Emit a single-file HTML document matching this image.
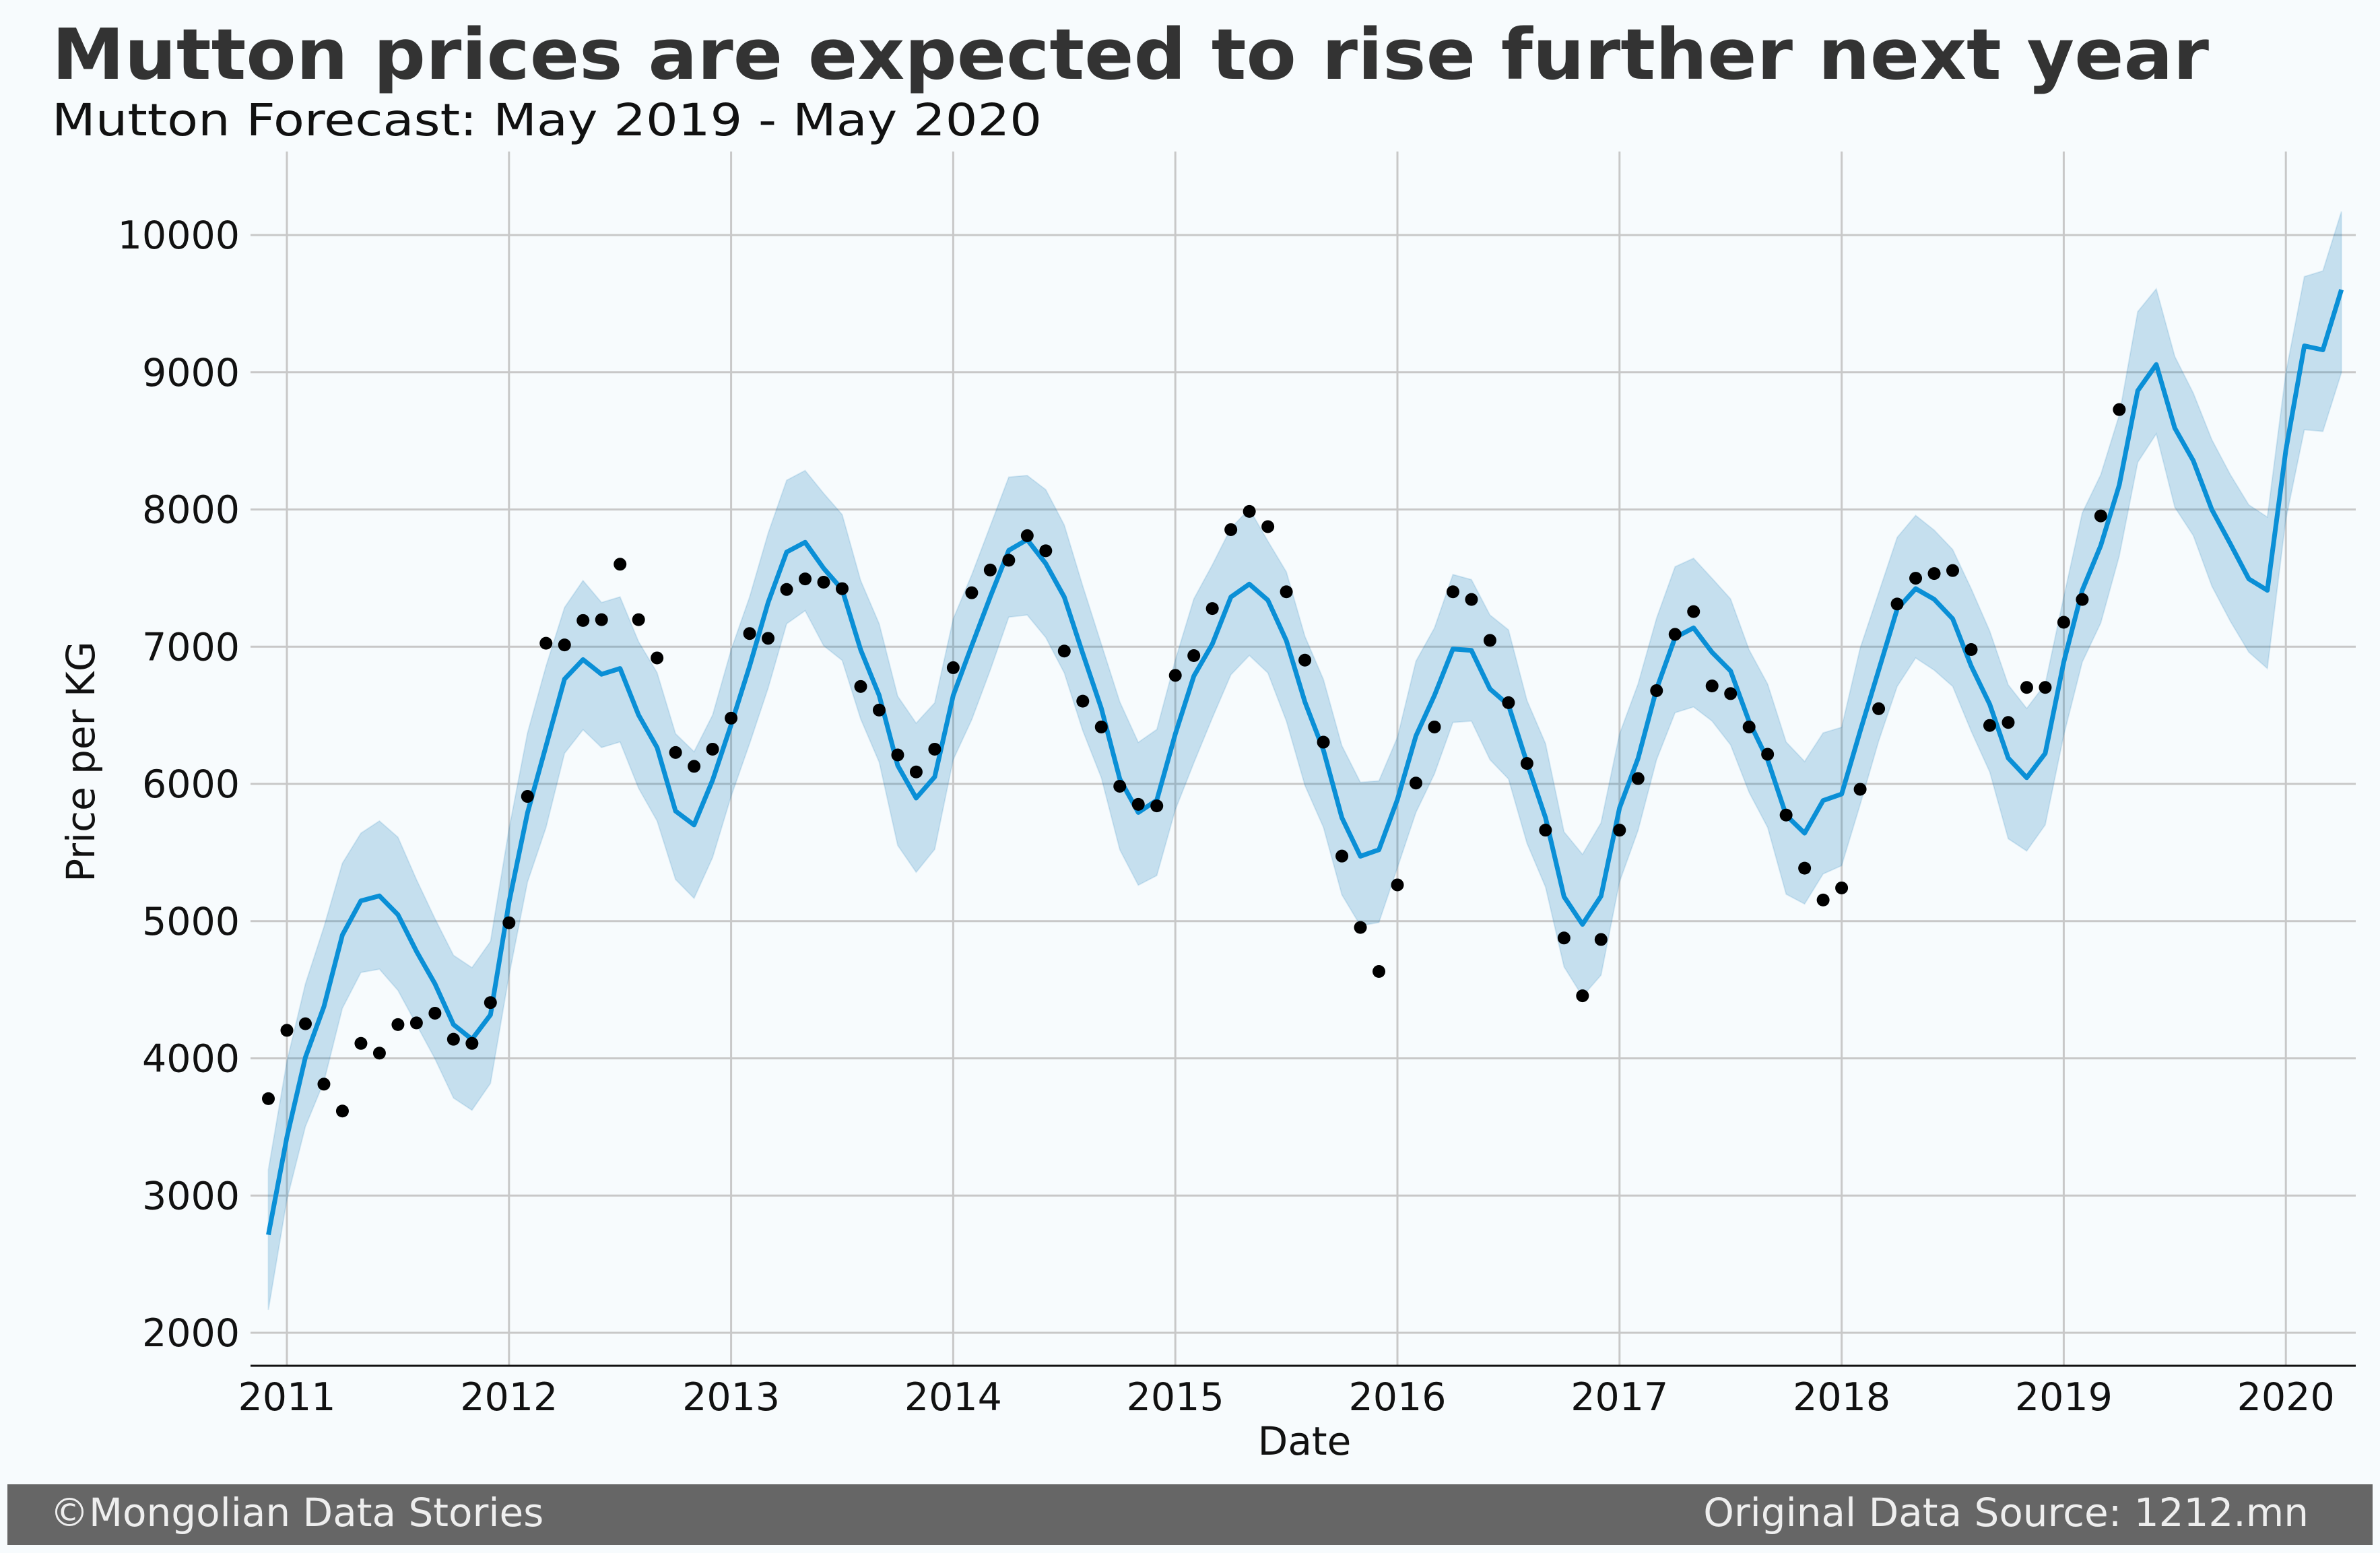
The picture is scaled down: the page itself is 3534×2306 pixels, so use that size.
<!DOCTYPE html>
<html><head><meta charset="utf-8">
<style>
html,body{margin:0;padding:0;background:#f7fbfd;}
svg{display:block;font-family:"DejaVu Sans","Liberation Sans",sans-serif;}
</style></head>
<body>
<svg id="chart" width="3534" height="2306" viewBox="0 0 3534 2306" xmlns="http://www.w3.org/2000/svg">
<rect x="0" y="0" width="3534" height="2306" fill="#f7fbfd"/>
<text x="77" y="117" font-size="104" font-weight="bold" fill="#333333" textLength="3203" lengthAdjust="spacingAndGlyphs">Mutton prices are expected to rise further next year</text>
<text x="77" y="201" font-size="66" fill="#111111" textLength="1470" lengthAdjust="spacingAndGlyphs">Mutton Forecast: May 2019 - May 2020</text>
<g id="grid"></g>
<path id="band" fill="#0072b2" fill-opacity="0.2" stroke="#0072b2" stroke-opacity="0.12" stroke-width="2"/>
<path id="line" fill="none" stroke="#0a8fd6" stroke-width="7" stroke-linejoin="round"/>
<g id="dots"></g>
<g id="axes"></g>
<text x="1937" y="2160" font-size="58" text-anchor="middle" fill="#111">Date</text>
<text x="0" y="0" font-size="58" text-anchor="middle" fill="#111" transform="translate(140,1131) rotate(-90)">Price per KG</text>
<rect x="11" y="2204" width="3512" height="90" fill="#666666"/>
<text x="74" y="2266" font-size="58" fill="#eeeeee">©Mongolian Data Stories</text>
<text x="3428" y="2266" font-size="58" fill="#eeeeee" text-anchor="end">Original Data Source: 1212.mn</text>
</svg>
<script>
// month index 0 = Jan 2011; series start at Dec 2010 (index -1)
const startMonth = -1;
const actual = [3706,4204,4252,3812,3616,4109,4038,4246,4258,4329,4139,4109,4406,
4988,5909,7025,7013,7191,7197,7601,7197,6918,6229,6128,6253,
6479,7096,7061,7417,7494,7470,7423,6710,6538,6211,6087,6253,
6847,7393,7559,7630,
7809,7699,6968,6603,6415,5983,5851,5840,
6791,6935,7278,7853,7986,7875,7400,6902,6304,5474,4954,4633,
5264,6006,6415,7400,7344,7046,6592,6149,5663,4877,4456,4866,
5663,6039,6680,7090,7256,6714,6658,6415,6216,5773,5386,5154,
5242,5961,6548,7311,7499,7533,7555,6979,6426,6448,6703,6703,
7178,7344,7953,8728];
const yhat = [2714,3426,4008,4377,4899,5148,5184,5047,4780,4543,4246,4139,4317,
5137,5790,6277,6764,6906,6799,6841,6502,6265,5802,5701,6027,
6431,6859,7322,7690,7761,7571,7417,6977,6645,6134,5897,6051,
6645,7007,7363,7702,
7780,7606,7362,6950,6551,6036,5792,5881,
6364,6786,7020,7362,7456,7339,7044,6598,6247,5754,5473,5520,
5886,6350,6645,6983,6973,6692,6575,6153,5754,5178,4976,5182,
5825,6186,6692,7067,7137,6959,6823,
6455,6176,5772,5641,5879,
5926,6384,6829,7274,7423,7346,7203,6859,6580,6188,6045,6223,
6888,7411,7738,8177,8866,9056,8593,8355,7999,7749,7494,7411,
8432,9192,9163,9602];
const upper = [3189,3978,4543,4958,5422,5641,5730,5612,5303,5018,4751,4661,4852,
5671,6372,6859,7286,7482,7322,7363,7037,6811,6366,6235,6502,
6977,7363,7827,8213,8284,8118,7963,7482,7167,6639,6443,6591,
7203,7524,7880,8236,
8248,8145,7887,7442,7020,6598,6303,6397,
6903,7348,7597,7864,8005,7770,7545,7076,6762,6279,6012,6022,
6340,6894,7137,7526,7489,7231,7123,6608,6294,5651,5487,5717,
6364,6729,7208,7583,7644,7498,7348,
6977,6728,6306,6164,6372,
6413,6989,7393,7797,7957,7850,7708,7423,7114,6722,6550,6728,
7363,7975,8254,8688,9442,9608,9115,8848,8509,8254,8034,7945,
8996,9697,9739,10172];
const lower = [2167,2969,3503,3830,4365,4626,4650,4495,4246,3996,3711,3622,3818,
4602,5285,5683,6223,6395,6265,6306,5968,5730,5303,5166,5463,
5909,6294,6698,7167,7262,7007,6900,6473,6158,5552,5356,5523,
6176,6467,6829,7215,
7231,7067,6809,6387,6045,5520,5262,5332,
5811,6153,6481,6795,6936,6809,6458,5989,5684,5192,4967,4990,
5389,5792,6073,6448,6458,6176,6036,5567,5248,4667,4451,4606,
5286,5661,6176,6519,6561,6458,6284,
5938,5683,5196,5125,5344,
5404,5849,6312,6710,6918,6829,6710,6384,6087,5600,5511,5701,
6354,6888,7173,7660,8343,8551,8016,7809,7441,7185,6960,6841,
7928,8581,8569,8996];
const yTicks = [2000,3000,4000,5000,6000,7000,8000,9000,10000];
const xTicks = [2011,2012,2013,2014,2015,2016,2017,2018,2019,2020];

const NS = "http://www.w3.org/2000/svg";
const plotL = 372, plotR = 3498, plotTop = 225, axisY = 2028;
function xScale(m){ return 426 + m * (329.8/12); }
function yScale(v){ return 349 + (10000 - v) * 0.20375; }
function mk(tag, attrs, parent){
  const e = document.createElementNS(NS, tag);
  for (const k in attrs) e.setAttribute(k, attrs[k]);
  parent.appendChild(e);
  return e;
}
const grid = document.getElementById('grid');
const axes = document.getElementById('axes');
yTicks.forEach(function(t){
  const y = yScale(t);
  const l = mk('line', {x1:plotL, x2:plotR, y1:y, y2:y, stroke:'#c8c8c8', 'stroke-width':3}, grid);
  
  
  const tx = mk('text', {x:356, y:y+20, 'font-size':57, 'text-anchor':'end', fill:'#111'}, axes);
  tx.textContent = t;
  
  
});
xTicks.forEach(function(yr){
  const x = xScale((yr - 2011) * 12);
  const l = mk('line', {x1:x, x2:x, y1:plotTop, y2:axisY, stroke:'#c8c8c8', 'stroke-width':3}, grid);
  
  
  const tx = mk('text', {x:x, y:2094, 'font-size':57, 'text-anchor':'middle', fill:'#111'}, axes);
  tx.textContent = yr;
  
  
});
const ax = mk('line', {x1:plotL, x2:plotR, y1:axisY, y2:axisY, stroke:'#111', 'stroke-width':3}, axes);



let up = '', lo = '';
for (let i = 0; i < upper.length; i++) up += (i ? 'L' : 'M') + xScale(startMonth + i).toFixed(1) + ',' + yScale(upper[i]).toFixed(1);
for (let i = lower.length - 1; i >= 0; i--) lo += 'L' + xScale(startMonth + i).toFixed(1) + ',' + yScale(lower[i]).toFixed(1);
document.getElementById('band').setAttribute('d', up + lo + 'Z');
let ln = '';
for (let i = 0; i < yhat.length; i++) ln += (i ? 'L' : 'M') + xScale(startMonth + i).toFixed(1) + ',' + yScale(yhat[i]).toFixed(1);
document.getElementById('line').setAttribute('d', ln);
const dots = document.getElementById('dots');
actual.forEach(function(v, i){
  const c = mk('circle', {cx:xScale(startMonth + i), cy:yScale(v), r:9.5, fill:'#000'}, dots);
  
  
});
</script>
</body></html>
